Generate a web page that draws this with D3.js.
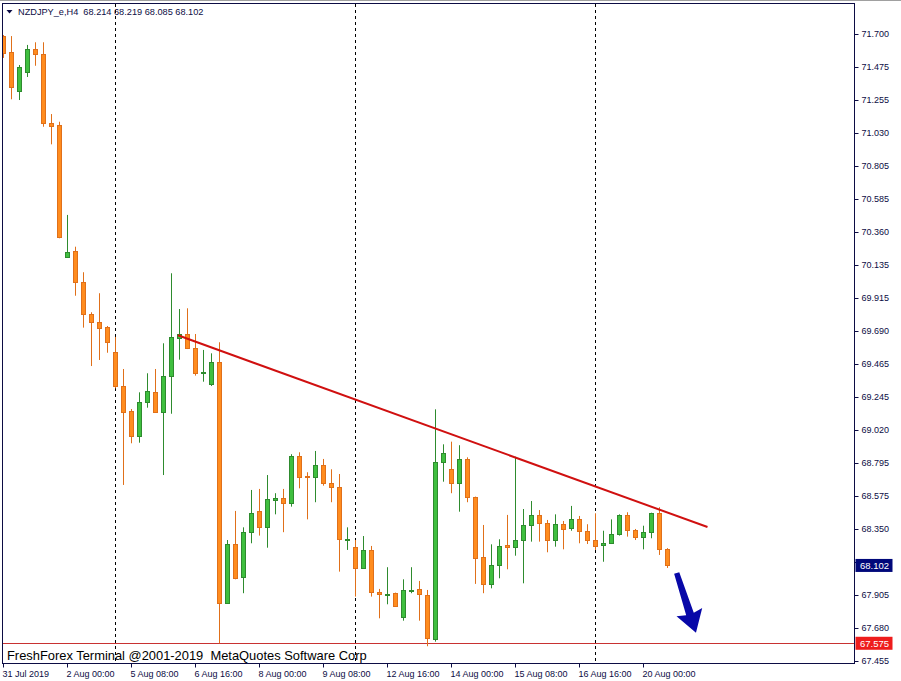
<!DOCTYPE html>
<html><head><meta charset="utf-8">
<script src="https://cdn.jsdelivr.net/npm/d3@7"></script>
<style>body{margin:0;background:#fff}svg{display:block}text{white-space:pre}</style>
</head><body>
<svg id="c" width="901" height="681"></svg>
<script>
// ---- data (NZDJPY_e, H4) ----
const opens=[71.686,71.576,71.314,71.445,71.596,71.565,71.095,71.084,70.188,70.231,70.019,69.804,69.748,69.718,69.547,69.314,69.148,68.980,69.207,69.274,69.143,69.383,69.644,69.667,69.572,69.404,69.333,69.477,67.850,68.245,68.022,68.327,68.471,68.360,68.543,68.557,68.523,68.843,68.706,68.699,68.782,68.658,68.631,68.278,68.229,68.087,68.207,67.924,67.906,67.914,67.755,67.933,67.941,67.902,67.602,68.800,68.753,68.658,68.821,68.566,68.157,67.975,68.103,68.241,68.225,68.274,68.374,68.442,68.387,68.274,68.381,68.354,68.414,68.335,68.274,68.241,68.252,68.313,68.442,68.342,68.297,68.331,68.455,68.214];
const highs=[71.693,71.686,71.490,71.626,71.644,71.644,71.158,71.106,70.475,70.260,70.087,69.816,69.945,69.723,69.649,69.432,69.161,69.274,69.403,69.432,69.606,70.080,69.838,69.843,69.669,69.561,69.538,69.613,68.274,68.471,68.360,68.613,68.620,68.714,68.591,68.620,68.855,68.868,68.733,68.877,68.823,68.753,68.721,68.360,68.274,68.301,68.234,67.943,68.090,67.918,68.008,68.090,67.997,67.936,69.159,68.922,68.940,68.916,68.834,68.568,68.376,68.245,68.279,68.444,68.838,68.484,68.538,68.477,68.410,68.448,68.403,68.505,68.437,68.381,68.455,68.337,68.414,68.448,68.462,68.349,68.371,68.459,68.496,68.219];
const lows=[71.538,71.258,71.253,71.409,71.485,71.072,70.953,70.317,70.187,69.928,69.712,69.452,69.493,69.542,69.301,68.647,68.929,68.933,69.170,69.138,68.714,69.129,69.495,69.567,69.387,69.346,69.317,67.575,67.846,68.008,67.914,68.252,68.304,68.222,68.448,68.327,68.500,68.624,68.414,68.530,68.642,68.530,68.060,68.207,67.891,68.083,67.891,67.744,67.839,67.823,67.728,67.914,67.728,67.555,67.586,68.669,68.591,68.466,68.530,67.977,67.914,67.947,68.015,68.076,68.168,67.981,68.263,68.263,68.191,68.229,68.211,68.337,68.252,68.247,68.207,68.127,68.247,68.304,68.297,68.274,68.211,68.286,68.173,68.085];
const closes=[71.573,71.343,71.475,71.596,71.563,71.095,71.079,70.324,70.226,70.019,69.802,69.752,69.712,69.617,69.314,69.143,68.980,69.207,69.283,69.143,69.383,69.649,69.667,69.572,69.407,69.409,69.477,67.846,68.245,68.015,68.327,68.455,68.360,68.550,68.557,68.523,68.843,68.703,68.699,68.782,68.662,68.631,68.279,68.284,68.087,68.207,67.924,67.907,67.911,67.830,67.936,67.939,67.907,67.609,68.800,68.861,68.658,68.821,68.568,68.151,67.975,68.103,68.234,68.225,68.274,68.374,68.442,68.387,68.274,68.381,68.347,68.414,68.337,68.274,68.236,68.252,68.313,68.442,68.342,68.297,68.331,68.455,68.211,68.102];
const priceTicks=[71.700,71.475,71.255,71.030,70.805,70.585,70.360,70.135,69.915,69.690,69.465,69.245,69.020,68.795,68.575,68.350,68.125,67.905,67.680,67.455];
const timeLabels=['31 Jul 2019','2 Aug 00:00','5 Aug 08:00','6 Aug 16:00','8 Aug 00:00','9 Aug 08:00','12 Aug 16:00','14 Aug 00:00','15 Aug 08:00','16 Aug 16:00','20 Aug 00:00'];
const timeLabelBars=[0,8,16,24,32,40,48,56,64,72,80];
const separatorBars=[14,44,74];
const trendLine=[{bar:21.8,price:69.660},{bar:88,price:68.362}];
const lowLevel=67.575;
const arrowPts=[{bar:84.15,price:68.051},{bar:86.56,price:67.647}];
const header='NZDJPY_e,H4  68.214 68.219 68.085 68.102';
const watermark='FreshForex Terminal @2001-2019  MetaQuotes Software Corp';

const svg=d3.select('#c');
const L=2.5,R=854.5,T=3.5,B=663.5;
const x=d3.scaleLinear().domain([0,83]).range([3.5,667.5]);
const y=d3.scaleLinear().domain([67.455,71.700]).range([661,34]);
const FONT='Liberation Sans, Arial, sans-serif';
const INK='#0c0c44';

svg.append('rect').attr('width',901).attr('height',681).attr('fill','#fff');
svg.append('line').attr('x1',0).attr('x2',901).attr('y1',0.5).attr('y2',0.5).attr('stroke','#a0a0a0');

const defs=svg.append('defs');
defs.append('clipPath').attr('id','plot').append('rect').attr('x',L).attr('y',T).attr('width',R-L).attr('height',B-T);
const g=svg.append('g').attr('clip-path','url(#plot)');

// period separators
g.selectAll('line.sep').data(separatorBars).join('line')
 .attr('x1',d=>x(d)).attr('x2',d=>x(d)).attr('y1',T).attr('y2',B)
 .attr('stroke','#000').attr('stroke-dasharray','3,3').attr('shape-rendering','crispEdges');

// low level line
g.append('line').attr('x1',L).attr('x2',R).attr('y1',Math.round(y(lowLevel))+0.5).attr('y2',Math.round(y(lowLevel))+0.5)
 .attr('stroke','#c83232').attr('stroke-width',1);

// candles
const bars=d3.range(opens.length).map(i=>({i,o:opens[i],h:highs[i],l:lows[i],c:closes[i]}));
const cg=g.append('g');
bars.forEach(d=>{
  const bull=d.c>=d.o;
  const stroke=bull?'#2e8b2e':'#e0701a';
  const fill=bull?'#3fbf3f':'#ff8c1e';
  const cx=x(d.i);
  cg.append('line').attr('x1',cx).attr('x2',cx).attr('y1',y(d.h)).attr('y2',y(d.l)).attr('stroke',stroke).attr('stroke-width',1);
  const top=Math.round(y(Math.max(d.o,d.c))), bot=Math.round(y(Math.min(d.o,d.c)));
  const hgt=Math.max(1,bot-top);
  cg.append('rect').attr('x',cx-2).attr('y',top+0.5).attr('width',4).attr('height',hgt)
    .attr('fill',fill).attr('stroke',stroke).attr('stroke-width',1);
});

// trend line
g.append('line').attr('x1',x(trendLine[0].bar)).attr('y1',y(trendLine[0].price))
 .attr('x2',x(trendLine[1].bar)).attr('y2',y(trendLine[1].price))
 .attr('stroke','#d01010').attr('stroke-width',2);

// arrow
(function(){
  const x0=x(arrowPts[0].bar),y0=y(arrowPts[0].price),x1=x(arrowPts[1].bar),y1=y(arrowPts[1].price);
  const dx=x1-x0,dy=y1-y0,len=Math.hypot(dx,dy);
  const ux=dx/len,uy=dy/len,nx=-uy,ny=ux;
  const headLen=19.5,headW=13.5,w0=2.7,w1=4;
  const bx=x1-ux*headLen,by=y1-uy*headLen;
  const P=(px,py,s,t)=>[px+nx*s+ux*t,py+ny*s+uy*t];
  const pts=[P(x0,y0,w0,0),P(bx,by,w1,0),P(bx,by,headW,-2),[x1,y1],P(bx,by,-headW,-2),P(bx,by,-w1,0),P(x0,y0,-w0,0)];
  g.append('polygon').attr('points',pts.map(p=>p.join(',')).join(' ')).attr('fill','#0808a8');
})();

// watermark
svg.append('text').attr('x',7).attr('y',659.5).attr('font-family',FONT).attr('font-size',12.9)
 .attr('fill','#000').attr('xml:space','preserve').text(watermark);

// frame
svg.append('rect').attr('x',L).attr('y',T).attr('width',R-L).attr('height',B-T).attr('fill','none').attr('stroke',INK);

// header
svg.append('path').attr('d',`M6.5,10 L12.5,10 L9.5,13.5 Z`).attr('fill',INK);
svg.append('text').attr('x',18).attr('y',15).attr('font-family',FONT).attr('font-size',9.2).attr('fill',INK)
 .attr('xml:space','preserve').text(header);

// price axis
const ya=svg.append('g');
ya.selectAll('line').data(priceTicks).join('line')
 .attr('x1',R).attr('x2',R+4).attr('y1',d=>Math.round(y(d))+0.5).attr('y2',d=>Math.round(y(d))+0.5).attr('stroke',INK);
ya.selectAll('text').data(priceTicks).join('text')
 .attr('x',861.5).attr('y',d=>y(d)).attr('dy','0.35em').attr('font-family',FONT).attr('font-size',9).attr('fill',INK)
 .text(d=>d.toFixed(3));

// price boxes (cover the tick label beneath, as in the terminal)
function priceBox(p,bg){
  const yy=y(p);
  svg.append('rect').attr('x',855.5).attr('y',yy-6.5).attr('width',37).attr('height',13).attr('fill',bg);
  svg.append('text').attr('x',860).attr('y',yy).attr('dy','0.35em').attr('font-family',FONT).attr('font-size',9.5).attr('fill','#fff').text(p.toFixed(3));
}
priceBox(closes[closes.length-1],'#00087a');
priceBox(lowLevel,'#ee1c1c');

// time axis
const xa=svg.append('g');
xa.selectAll('line').data(timeLabelBars).join('line')
 .attr('x1',d=>Math.floor(x(d))+0.5).attr('x2',d=>Math.floor(x(d))+0.5).attr('y1',B).attr('y2',B+4).attr('stroke',INK);
xa.selectAll('text').data(timeLabelBars).join('text')
 .attr('x',d=>x(d)-1).attr('y',677).attr('font-family',FONT).attr('font-size',9).attr('fill',INK)
 .text((d,i)=>timeLabels[i]);
</script>
</body></html>
